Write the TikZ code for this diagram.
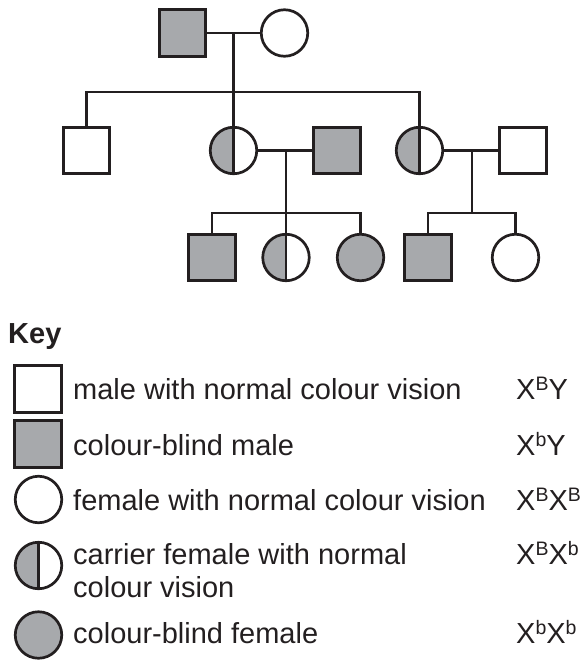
\documentclass[tikz,border=0pt]{standalone}
\usepackage{fontspec}
\setmainfont{Liberation Sans}
\definecolor{cbgray}{RGB}{167,169,172}
\definecolor{ink}{RGB}{35,31,32}
\newcommand\supx[1]{\raisebox{8.5pt}{\fontsize{19.5}{19.5}\selectfont #1}}
\begin{document}
\begin{tikzpicture}[x=1pt,y=-1pt,
  conn/.style={draw=ink, line width=2.7pt},
  male/.style={rectangle, draw=ink, line width=2.7pt, minimum size=46.5pt, inner sep=0pt, fill=white},
  female/.style={circle, draw=ink, line width=2.7pt, minimum size=46.5pt, inner sep=0pt, fill=white},
  affected/.style={fill=cbgray},
  carrier/.style={path picture={
      \fill[cbgray] (path picture bounding box.north west) rectangle (path picture bounding box.south);
      \draw[ink, line width=2.7pt] (path picture bounding box.north) -- (path picture bounding box.south);}},
  lbl/.style={anchor=base west, inner sep=0pt, text=ink, font=\fontsize{29}{33}\selectfont},
  geno/.style={anchor=base west, inner sep=0pt, text=ink, font=\fontsize{29}{33}\selectfont}
]
\useasboundingbox (0,0) rectangle (585,660);

% generation 1
\node[male, affected] (F1) at (182.5,33) {};
\node[female] (M1) at (284.5,33) {};
% generation 2
\node[male] (S1) at (86.5,150.5) {};
\node[female, carrier] (C1) at (233.5,150.5) {};
\node[male, affected] (G1) at (337,150.5) {};
\node[female, carrier] (C2) at (419.5,150.5) {};
\node[male] (W2) at (523,150.5) {};
% generation 3
\node[male, affected] (D1) at (212,257.5) {};
\node[female, carrier] (D2) at (286,257.5) {};
\node[female, affected] (D3) at (360.5,257.5) {};
\node[male, affected] (E1) at (428,257.5) {};
\node[female] (E2) at (515.5,257.5) {};

\coordinate (b1) at (233.5,92);
\coordinate (b2) at (286,213);
\coordinate (b3) at (472,213);

% connectors
\draw[conn] (F1) -- (M1);
\draw[conn] (C1.north |- F1) -- (C1.north);
\draw[conn] (S1.north) |- (b1) -| (C2.north);
\draw[conn] (C1) -- (G1);
\draw[conn] (b2 |- C1) -- (D2.north);
\draw[conn] (D1.north) |- (b2) -| (D3.north);
\draw[conn] (C2) -- (W2);
\draw[conn] (b3 |- C2) -- (b3);
\draw[conn] (E1.north) |- (b3) -| (E2.north);

% key
\node[anchor=base west, inner sep=0pt, text=ink, font=\fontsize{29}{33}\selectfont\bfseries] (key) at (8,343) {Key};

\node[male] (k1) at (38,389) {};
\node[male, affected] (k2) at (38,444) {};
\node[female] (k3) at (38.5,499.5) {};
\node[female, carrier] (k4) at (38.5,565.5) {};
\node[female, affected] (k5) at (38.5,635) {};

\node[lbl] (t1) at (73,399) {male with normal colour vision};
\node[lbl] (t2) at (73,455) {colour-blind male};
\node[lbl] (t3) at (73,510) {female with normal colour vision};
\node[lbl] (t4a) at (73,564) {carrier female with normal};
\node[lbl] (t4b) at (73,597) {colour vision};
\node[lbl] (t5) at (73,643) {colour-blind female};

\node[geno] (g1) at (516,399) {X\supx{B}Y};
\node[geno] (g2) at (516,455) {X\supx{b}Y};
\node[geno] (g3) at (516,510) {X\supx{B}X\supx{B}};
\node[geno] (g4) at (516,564) {X\supx{B}X\supx{b}};
\node[geno] (g5) at (516,643) {X\supx{b}X\supx{b}};
\end{tikzpicture}
\end{document}
